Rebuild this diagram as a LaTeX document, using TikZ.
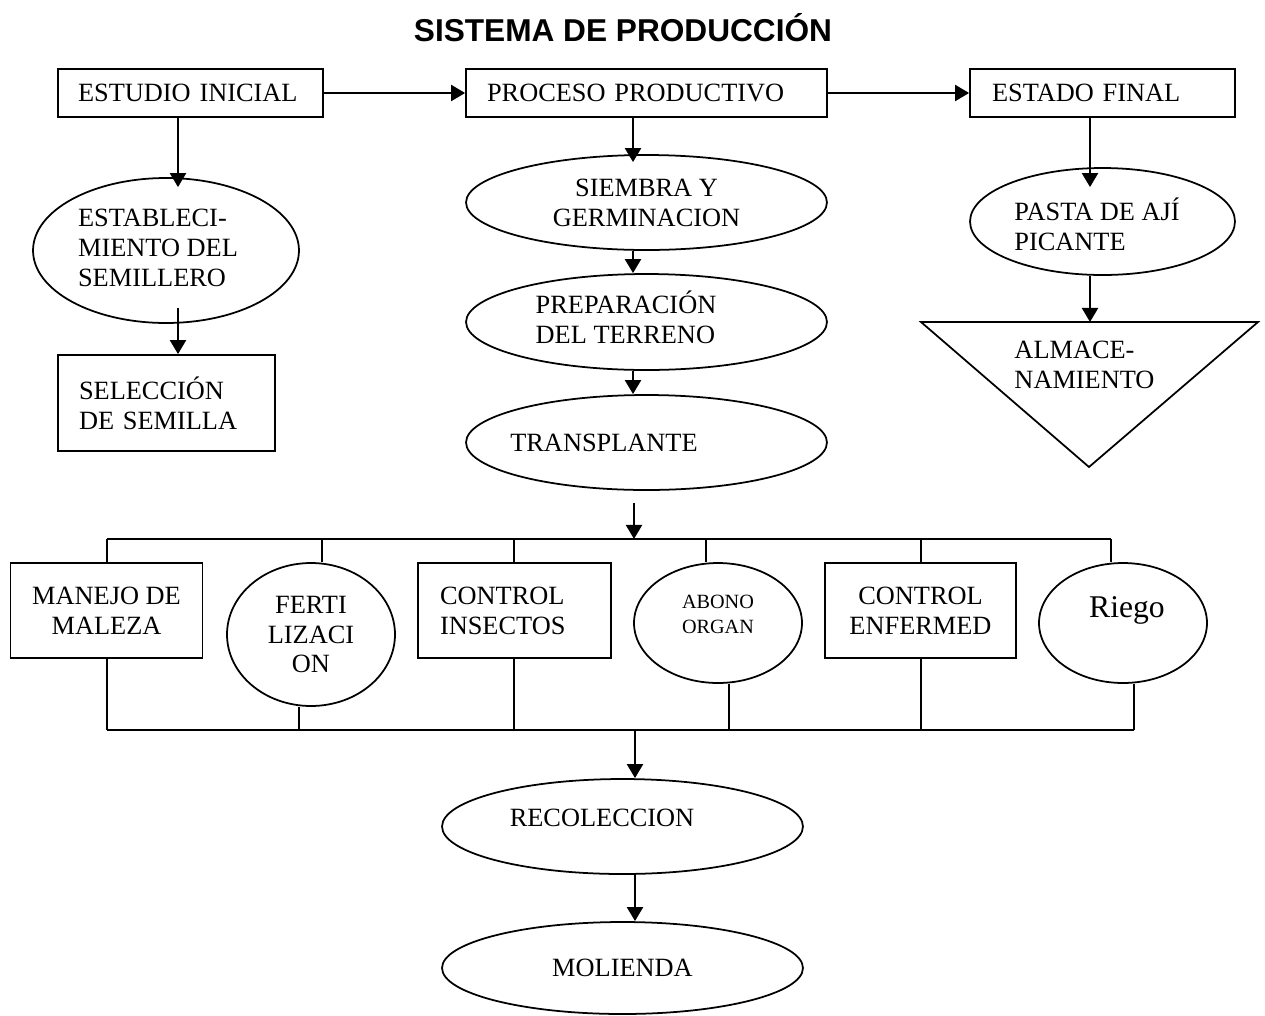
\documentclass[tikz,border=0pt]{standalone}
\usepackage{fontspec}
\setmainfont{Liberation Serif}
\newfontfamily\titulofont{Liberation Sans}
\usetikzlibrary{shapes.geometric,arrows.meta,calc}

\tikzset{
  letra/.style={font=\fontsize{15}{17}\selectfont},
  caja/.style={draw, line width=1pt, rectangle, inner sep=0pt, letra},
  cajaizq/.style={caja, align=left},
  elipse/.style={draw, line width=1pt, ellipse, inner sep=0pt, letra, align=left},
  texto/.style={inner sep=0pt, letra, align=left},
  flecha/.style={line width=1.6pt, -{Triangle[width=9pt,length=8pt]}},
  linea/.style={line width=1.1pt},
}

\begin{document}
\begin{tikzpicture}[x=0.02cm, y=-0.02cm]
\useasboundingbox (0,0) rectangle (1265,1015);

% titulo
\node[font=\titulofont\bfseries\fontsize{18}{21}\selectfont] (titulo) at (623,28) {SISTEMA DE PRODUCCIÓN};

% fila de arriba
\node[cajaizq, text width=4.5cm, minimum width=5.3cm, minimum height=0.96cm] (estudio) at (190.5,93) {ESTUDIO INICIAL};
\node[cajaizq, text width=6.38cm, minimum width=7.22cm, minimum height=0.96cm] (proceso) at (646.5,93) {PROCESO PRODUCTIVO};
\node[cajaizq, text width=4.42cm, minimum width=5.3cm, minimum height=0.96cm] (estado) at (1102.5,93) {ESTADO FINAL};

% columna izquierda
\node[elipse, minimum width=5.32cm, minimum height=2.9cm] (semillero) at (166,250.5) {};
\node[texto] (t-semillero) at (158,248) {ESTABLECI-\\MIENTO DEL\\SEMILLERO};
\node[cajaizq, text width=3.5cm, minimum width=4.34cm, minimum height=1.92cm] (seleccion) at (166.5,403) {SELECCIÓN\\DE SEMILLA};

% columna central
\node[elipse, align=center, minimum width=7.22cm, minimum height=1.9cm] (siembra) at (646.5,202.5) {SIEMBRA Y\\GERMINACION};
\node[elipse, minimum width=7.22cm, minimum height=1.92cm] (prep) at (646.5,322) {};
\node[texto] (t-prep) at (626,317.5) {PREPARACIÓN\\DEL TERRENO};
\node[elipse, minimum width=7.22cm, minimum height=1.9cm] (trasplante) at (646.5,442.5) {};
\node[texto] (t-trasplante) at (604,443) {TRANSPLANTE};

% columna derecha
\node[elipse, minimum width=5.3cm, minimum height=2.14cm] (pasta) at (1102.5,221.5) {};
\node[texto] (t-pasta) at (1097,224) {PASTA DE AJÍ\\PICANTE};
\draw[line width=1pt] (921,322) -- (1258,322) -- (1089,467) -- cycle;
\coordinate (almacen-top) at (1090,322);
\node[texto] (almacen) at (1084.5,365) {ALMACE-\\NAMIENTO};

% labores del cultivo
\node[caja, align=center, minimum width=3.84cm, minimum height=1.9cm] (manejo) at (106.5,610.5) {MANEJO DE\\MALEZA};
\node[elipse, align=center, minimum width=3.36cm, minimum height=2.86cm] (ferti) at (311,634.5) {FERTI\\LIZACI\\ON};
\node[cajaizq, text width=2.98cm, minimum width=3.86cm, minimum height=1.9cm] (insectos) at (514.5,610.5) {CONTROL\\INSECTOS};
\node[elipse, minimum width=3.36cm, minimum height=2.4cm] (abono) at (718,623) {};
\node[texto, align=center, font=\fontsize{11.5}{14}\selectfont] (t-abono) at (718,614.5) {ABONO\\ORGAN};
\node[caja, align=center, minimum width=3.82cm, minimum height=1.9cm] (enfermed) at (920.5,610.5) {CONTROL\\ENFERMED};
\node[elipse, minimum width=3.36cm, minimum height=2.4cm] (riego) at (1123,623) {};
\node[texto, font=\fontsize{18}{21}\selectfont] (t-riego) at (1127,610) {Riego};

% final
\node[elipse, minimum width=7.22cm, minimum height=1.9cm] (recoleccion) at (622.5,826.5) {};
\node[texto] (t-recoleccion) at (602,818) {RECOLECCION};
\node[elipse, align=center, minimum width=7.22cm, minimum height=1.84cm] (molienda) at (622.5,968) {MOLIENDA};

% flechas
\coordinate (col1) at (178,0);
\coordinate (col2) at (633,0);
\coordinate (col3) at (1090,0);
\draw[flecha] (estudio) -- (proceso);
\draw[flecha] (proceso) -- (estado);
\draw[flecha] (estudio.south -| col1) -- ($(col1 |- semillero.north)+(0,10)$);
\draw[flecha] ($(col1 |- semillero.south)+(0,-16)$) -- (col1 |- seleccion.north);
\draw[flecha] (proceso.south -| col2) -- ($(col2 |- siembra.north)+(0,8)$);
\draw[flecha] (siembra.south -| col2) -- (col2 |- prep.north);
\draw[flecha] (prep.south -| col2) -- (col2 |- trasplante.north);
\draw[flecha] (estado.south -| col3) -- ($(col3 |- pasta.north)+(0,20)$);
\draw[flecha] (pasta.south -| col3) -- (almacen-top);

% barras
\coordinate (bajada) at (634,503);
\coordinate (bus1) at (634,539);
\coordinate (bus2) at (635,730);
\draw[flecha] (bajada) -- (bus1);
\draw[linea] (107,539) -- (1111,539);
\foreach \x/\n in {107/manejo,322/ferti,514/insectos,706/abono,921/enfermed,1111/riego}{
  \coordinate (arriba) at (\x,539);
  \draw[linea] (arriba) -- (arriba |- \n.north);
}
\foreach \x/\n in {107/manejo,299/ferti,514/insectos,729/abono,921/enfermed,1134/riego}{
  \coordinate (abajo) at (\x,730);
  \draw[linea] (abajo |- \n.south) -- (abajo);
}
\draw[linea] (107,730) -- (1134,730);
\draw[flecha] (bus2) -- (bus2 |- recoleccion.north);
\draw[flecha] (recoleccion.south -| bus2) -- (bus2 |- molienda.north);
\end{tikzpicture}
\end{document}
